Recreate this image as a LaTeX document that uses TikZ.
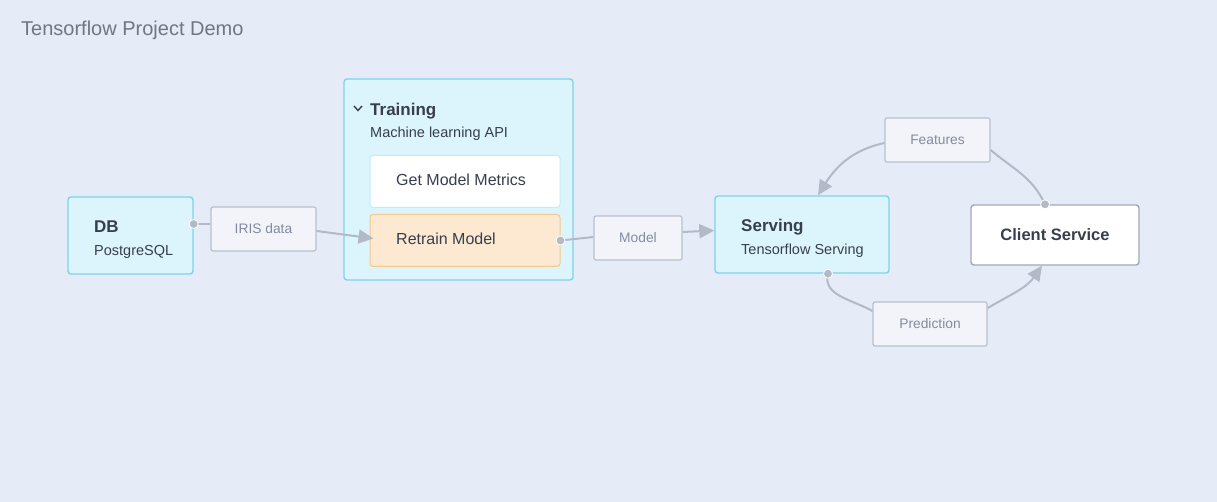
\documentclass[tikz,border=0pt]{standalone}
\usepackage{fontspec}
\setmainfont{Liberation Sans}
\usetikzlibrary{positioning,arrows.meta}

\definecolor{bgblue}{RGB}{229,236,247}
\definecolor{cyanfill}{RGB}{220,245,253}
\definecolor{cyanline}{RGB}{125,211,236}
\definecolor{peachfill}{RGB}{253,232,209}
\definecolor{peachline}{RGB}{247,200,140}
\definecolor{labelfill}{RGB}{242,244,249}
\definecolor{labelline}{RGB}{184,192,206}
\definecolor{labeltext}{RGB}{130,140,160}
\definecolor{linkgray}{RGB}{178,186,200}
\definecolor{textdark}{RGB}{55,63,78}
\definecolor{titlegray}{RGB}{112,118,130}
\definecolor{clientline}{RGB}{160,168,184}

\begin{document}
\begin{tikzpicture}[
  x=1pt, y=1pt,
  panel/.style={draw=cyanline, fill=cyanfill, line width=1.4pt, rounded corners=3pt},
  inner/.style={rounded corners=3pt, line width=1pt, minimum width=190pt, minimum height=52pt},
  edgelabel/.style={draw=labelline, fill=labelfill, line width=1.2pt, rounded corners=2pt,
    minimum height=44pt, text=labeltext, font=\fontsize{13.8}{16}\selectfont},
  head/.style={anchor=base west, inner sep=0, text=textdark, font=\fontsize{17}{20}\selectfont\bfseries},
  sub/.style={anchor=base west, inner sep=0, text=textdark, font=\fontsize{14.5}{17}\selectfont},
  dot/.style={circle, fill=linkgray, draw=white, line width=0.8pt, inner sep=0, minimum size=9pt},
  plain link/.style={draw=linkgray, line width=2pt},
  link/.style={plain link, -{Triangle[length=15pt, width=14pt]}}
]
  % background and title
  \fill[bgblue] (0,0) rectangle (1217,-502);
  \useasboundingbox (0,0) rectangle (1217,-502);
  \node[anchor=base west, inner sep=0, text=titlegray, font=\fontsize{20}{24}\selectfont]
    (title) at (21,-36) {Tensorflow Project Demo};

  % DB
  \node[panel, minimum width=125pt, minimum height=77pt] (db) at (130.5,-235.5) {};
  \node[head] (dbname) at (94,-233) {DB};
  \node[sub] (dbsub) at (94,-256) {PostgreSQL};

  % Training group
  \node[panel, minimum width=229pt, minimum height=201pt] (training) at (458.5,-179.5) {};
  \draw[textdark, line width=1.4pt] (354,-106) -- (358,-110.5) -- (362,-106);
  \node[head] (trainname) at (370,-116) {Training};
  \node[sub] (trainsub) at (370,-138) {Machine learning API};
  \node[inner, draw=cyanline!45, fill=white] (metrics) at (465,-181.5) {};
  \node[inner, draw=peachline, fill=peachfill, below=6pt of metrics] (retrain) {};
  \node[anchor=base west, inner sep=0, text=textdark, font=\fontsize{16}{19}\selectfont]
    (metricstext) at (396,-186) {Get Model Metrics};
  \node[anchor=base west, inner sep=0, text=textdark, font=\fontsize{16}{19}\selectfont]
    (retraintext) at (396,-245) {Retrain Model};

  % Serving
  \node[panel, minimum width=174pt, minimum height=77pt] (serving) at (802,-234.5) {};
  \node[head] (servname) at (741,-232) {Serving};
  \node[sub] (servsub) at (741,-255) {Tensorflow Serving};

  % Client Service
  \node[draw=clientline, fill=white, line width=1.4pt, rounded corners=3pt,
    minimum width=168pt, minimum height=60pt, text=textdark,
    font=\fontsize{16.5}{19}\selectfont\bfseries] (client) at (1055,-235) {Client Service};

  % edge labels
  \node[edgelabel, minimum width=105pt] (iris) at (263.5,-229) {IRIS data};
  \node[edgelabel, minimum width=88pt] (model) at (638,-238) {Model};
  \node[edgelabel, minimum width=105pt] (features) at (937.5,-140) {Features};
  \node[edgelabel, minimum width=114pt] (prediction) at (930,-324) {Prediction};

  % connectors
  \draw[plain link] ([yshift=11.5pt]db.east) -- ([yshift=5pt]iris.west);
  \draw[link] ([yshift=-2pt]iris.east) -- ([xshift=4pt, yshift=2pt]retrain.west);
  \draw[plain link] (retrain.east) -- ([yshift=1pt]model.west);
  \draw[link] ([yshift=6pt]model.east) -- ([yshift=4pt]serving.west);
  \draw[plain link] ([xshift=-10pt]client.north) to[out=115, in=-40] ([yshift=-10pt]features.east);
  \draw[link] ([yshift=-3pt]features.west) to[out=192, in=58] ([xshift=16pt]serving.north);
  \draw[plain link] ([xshift=26pt]serving.south) to[out=-105, in=150] ([yshift=13pt]prediction.west);
  \draw[link] ([yshift=16pt]prediction.east) to[out=30, in=-125] ([xshift=-13pt]client.south);

  % connector start dots
  \node[dot] (dbout) at ([yshift=11.5pt]db.east) {};
  \node[dot] (retrainout) at (retrain.east) {};
  \node[dot] (clientout) at ([xshift=-10pt]client.north) {};
  \node[dot] (servout) at ([xshift=26pt]serving.south) {};
\end{tikzpicture}
\end{document}
